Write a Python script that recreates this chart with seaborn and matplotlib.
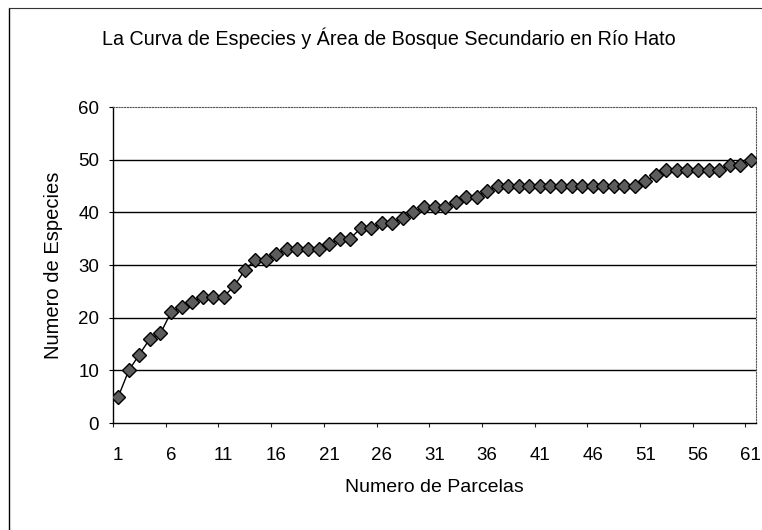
import matplotlib
matplotlib.use("Agg")
import matplotlib.pyplot as plt
import seaborn as sns
import pandas as pd
from matplotlib.lines import Line2D

# data
parcelas = list(range(1, 62))
especies = [5, 10, 13, 16, 17, 21, 22, 23, 24, 24,
            24, 26, 29, 31, 31, 32, 33, 33, 33, 33,
            34, 35, 35, 37, 37, 38, 38, 39, 40, 41,
            41, 41, 42, 43, 43, 44, 45, 45, 45, 45,
            45, 45, 45, 45, 45, 45, 45, 45, 45, 45,
            46, 47, 48, 48, 48, 48, 48, 48, 49, 49,
            50]
x_ticks = list(range(1, 62, 5))
y_ticks = [0, 10, 20, 30, 40, 50, 60]

titulo = "La Curva de Especies y Área de Bosque Secundario en Río Hato"
x_label = "Numero de Parcelas"
y_label = "Numero de Especies"

df = pd.DataFrame({"parcela": parcelas, "especies": especies})

sns.set_theme(style="white")
plt.rcParams['font.family'] = ['Liberation Sans', 'DejaVu Sans']

fig = plt.figure(figsize=(7.62, 5.30), dpi=100)
ax = fig.add_axes([113 / 762, 107 / 530, (756 - 113) / 762, (423 - 107) / 530])

# horizontal gridlines (Excel style)
for yv in y_ticks[1:-1]:
    ax.axhline(yv, color='black', lw=1.0, zorder=1)

sns.lineplot(data=df, x="parcela", y="especies", ax=ax, color='black', lw=1.0,
             marker='D', markersize=7.5, markerfacecolor='#5c5c5c',
             markeredgecolor='black', markeredgewidth=1.0, zorder=3)

ax.set_xlim(0.5, 61.5)
ax.set_ylim(0, 60)
ax.set_xticks(x_ticks)
ax.set_xticks([v - 0.5 for v in x_ticks], minor=True)
ax.set_yticks(y_ticks)
ax.tick_params(axis='x', which='major', length=0, pad=17, labelsize=13.5, colors='black')
ax.tick_params(axis='x', which='minor', length=3, width=0.8, direction='out', bottom=True)
ax.tick_params(axis='y', length=3, width=0.8, direction='out', left=True, pad=7,
               labelsize=13.5, colors='black')

ax.set_xlabel(x_label, fontsize=14, labelpad=11, color='black')
ax.set_ylabel(y_label, fontsize=14.5, labelpad=11, color='black')

for side in ['left', 'bottom']:
    ax.spines[side].set_color('black')
    ax.spines[side].set_linewidth(1.0)
for side in ['top', 'right']:
    ax.spines[side].set_color('#555555')
    ax.spines[side].set_linewidth(0.8)
    ax.spines[side].set_linestyle((0, (1, 1.5)))

fig.text(389 / 762, 1 - 38 / 530, titulo, ha='center', va='center',
         fontsize=14.2, color='black')

# chart frame (only top and left edges visible in the scan)
fig.add_artist(Line2D([9 / 762, 9 / 762], [0, 1 - 8 / 530], color='black', lw=1.0,
                      transform=fig.transFigure))
fig.add_artist(Line2D([9 / 762, 1], [1 - 8 / 530, 1 - 8 / 530], color='#333333', lw=0.8,
                      transform=fig.transFigure))

fig.savefig("out.png", dpi=100, facecolor='white')
